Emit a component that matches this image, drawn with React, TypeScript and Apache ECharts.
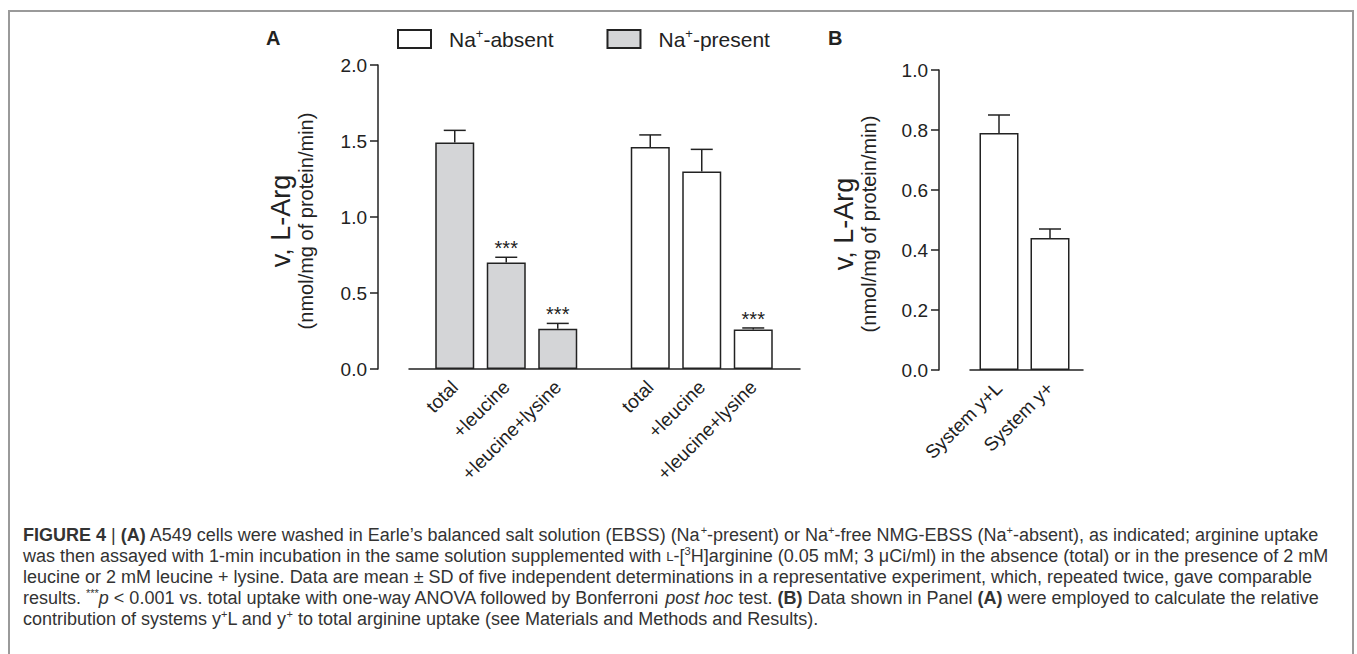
import React, { useEffect, useRef } from "react";
import * as echarts from "echarts";

const categoriesA = ["total", "+leucine", "+leucine+lysine"];
const presentMeans = [1.49, 0.7, 0.265];
const presentSD = [0.08, 0.035, 0.035];
const presentSig = ["", "***", "***"];
const absentMeans = [1.46, 1.3, 0.26];
const absentSD = [0.08, 0.145, 0.01];
const absentSig = ["", "", "***"];

const categoriesB = ["System y+L", "System y+"];
const systemMeans = [0.79, 0.44];
const systemSD = [0.06, 0.03];
const systemSig = ["", ""];

const legendNames = ["Na+-absent", "Na+-present"];

const FONT = "Liberation Sans, Arial, Helvetica, sans-serif";
const INK = "#222";

const captionLines = [
  "{b|FIGURE 4} | {b|(A)} A549 cells were washed in Earle’s balanced salt solution (EBSS) (Na{sup|+}-present) or Na{sup|+}-free NMG-EBSS (Na{sup|+}-absent), as indicated; arginine uptake",
  "was then assayed with 1-min incubation in the same solution supplemented with {sc|L}-[{sup|3}H]arginine (0.05 mM; 3 μCi/ml) in the absence (total) or in the presence of 2 mM",
  "leucine or 2 mM leucine + lysine. Data are mean ± SD of five independent determinations in a representative experiment, which, repeated twice, gave comparable",
  "results. {sup|***}{i|p} < 0.001 vs. total uptake with one-way ANOVA followed by Bonferroni {i|post hoc} test. {b|(B)} Data shown in Panel {b|(A)} were employed to calculate the relative",
  "contribution of systems y{sup|+}L and y{sup|+} to total arginine uptake (see Materials and Methods and Results).",
];

function errSeries(xi: number, yi: number, means: number[], sds: number[], sigs: string[]) {
  return {
    type: "custom",
    xAxisIndex: xi,
    yAxisIndex: yi,
    z: 5,
    data: means.map((m, i) => [i, m, sds[i]]),
    encode: { x: 0, y: 1 },
    renderItem: (params: any, api: any) => {
      const i = api.value(0);
      const m = api.value(1);
      const s = api.value(2);
      const base = api.coord([i, m]);
      const top = api.coord([i, m + s]);
      const ls = { stroke: INK, lineWidth: 1.5 };
      const children: any[] = [
        { type: "line", shape: { x1: base[0], y1: base[1], x2: top[0], y2: top[1] }, style: ls },
        { type: "line", shape: { x1: top[0] - 11, y1: top[1], x2: top[0] + 11, y2: top[1] }, style: ls },
      ];
      const sig = sigs[params.dataIndex];
      if (sig) {
        children.push({
          type: "text",
          x: top[0],
          y: top[1] - 9,
          style: { text: sig, align: "center", verticalAlign: "middle", fontSize: 20, fill: INK, fontFamily: FONT },
        });
      }
      return { type: "group", children };
    },
  };
}

const axisLineStyle = { color: INK, width: 1.5 };

function catAxis(grid: number, data: string[]) {
  return {
    type: "category",
    gridIndex: grid,
    data,
    axisLine: { show: false },
    axisTick: { show: false },
    axisLabel: { interval: 0, rotate: 45, fontSize: 19, color: INK, margin: 15, fontFamily: FONT },
    splitLine: { show: false },
  };
}

function lineAxis(grid: number) {
  return {
    type: "value",
    gridIndex: grid,
    min: 0,
    max: 1,
    axisLine: { show: true, lineStyle: axisLineStyle },
    axisTick: { show: false },
    axisLabel: { show: false },
    splitLine: { show: false },
  };
}

const yName = "{a|v, L-Arg}\n{b|(nmol/mg of protein/min)}";
const yNameStyle = {
  fontFamily: FONT,
  color: INK,
  padding: [0, 8, 0, 0],
  rich: {
    a: { fontSize: 27, lineHeight: 28, fontFamily: FONT, color: INK },
    b: { fontSize: 20, lineHeight: 22, fontFamily: FONT, color: INK },
  },
};

function valAxis(grid: number, max: number, interval: number, offset: number, gap: number) {
  return {
    type: "value",
    gridIndex: grid,
    min: 0,
    max,
    interval,
    offset,
    name: yName,
    nameLocation: "middle",
    nameRotate: 90,
    nameGap: gap,
    nameTextStyle: yNameStyle,
    axisLine: { show: true, lineStyle: axisLineStyle },
    axisTick: { show: true, length: 8, lineStyle: axisLineStyle },
    axisLabel: { fontSize: 19, color: INK, margin: 11, fontFamily: FONT, formatter: (v: number) => v.toFixed(1) },
    splitLine: { show: false },
  };
}

function hiddenY(grid: number, max: number) {
  return { type: "value", gridIndex: grid, min: 0, max, show: false, splitLine: { show: false } };
}

export default function App() {
  const ref = useRef<HTMLDivElement>(null);
  useEffect(() => {
    if (!ref.current) return;
    const chart = echarts.init(ref.current, null, { renderer: "svg" });
    const barBorder = { borderColor: INK, borderWidth: 1.5 };
    const option: any = {
      animation: false,
      backgroundColor: "#fff",
      textStyle: { fontFamily: FONT },
      legend: {
        data: legendNames,
        left: 397,
        top: 27,
        padding: 0,
        itemWidth: 33,
        itemHeight: 18,
        itemGap: 53,
        icon: "rect",
        formatter: (name: string) => `{n|Na}{s|+}{n|${name.slice(3)}}`,
        textStyle: {
          fontFamily: FONT,
          color: INK,
          padding: [0, 0, 0, 13],
          rich: {
            n: { fontSize: 21, fontFamily: FONT, color: INK, lineHeight: 24 },
            s: { fontSize: 13, fontFamily: FONT, color: INK, lineHeight: 24, verticalAlign: "top", padding: [0, 0, 7, 0] },
          },
        },
      },
      grid: [
        { left: 429, top: 65, width: 154.5, height: 304 },
        { left: 624.5, top: 65, width: 154.5, height: 304 },
        { left: 409, top: 65, width: 391, height: 304 },
        { left: 973.5, top: 70, width: 102, height: 300 },
        { left: 970, top: 70, width: 113, height: 300 },
      ],
      xAxis: [catAxis(0, categoriesA), catAxis(1, categoriesA), lineAxis(2), catAxis(3, categoriesB), lineAxis(4)],
      yAxis: [
        valAxis(0, 2, 0.5, 51, 61),
        hiddenY(1, 2),
        hiddenY(2, 1),
        valAxis(3, 1, 0.2, 34.5, 59),
        hiddenY(4, 1),
      ],
      series: [
        {
          name: "Na+-present",
          type: "bar",
          xAxisIndex: 0,
          yAxisIndex: 0,
          barWidth: 39,
          data: presentMeans,
          itemStyle: { color: "#d4d5d7", ...barBorder },
        },
        {
          name: "Na+-absent",
          type: "bar",
          xAxisIndex: 1,
          yAxisIndex: 1,
          barWidth: 39,
          data: absentMeans,
          itemStyle: { color: "#ffffff", ...barBorder },
        },
        {
          name: "systems",
          type: "bar",
          xAxisIndex: 3,
          yAxisIndex: 3,
          barWidth: 39,
          data: systemMeans,
          itemStyle: { color: "#ffffff", ...barBorder },
        },
        errSeries(0, 0, presentMeans, presentSD, presentSig),
        errSeries(1, 1, absentMeans, absentSD, absentSig),
        errSeries(3, 3, systemMeans, systemSD, systemSig),
      ],
      graphic: [
        {
          type: "polyline",
          shape: { points: [[9, 660], [9, 11], [1353, 11], [1353, 660]] },
          style: { stroke: "#9a9a9a", lineWidth: 2, fill: "none" },
          silent: true,
        },
        {
          type: "text",
          x: 266,
          y: 38,
          style: { text: "A", fontSize: 20, fontWeight: "bold", fill: INK, fontFamily: FONT, verticalAlign: "middle" },
        },
        {
          type: "text",
          x: 828,
          y: 38,
          style: { text: "B", fontSize: 20, fontWeight: "bold", fill: INK, fontFamily: FONT, verticalAlign: "middle" },
        },
        ...captionLines.map((t, k) => ({
          type: "text",
          x: 23,
          y: 535 + k * 21,
          style: {
            text: t,
            fontSize: 18,
            fontFamily: FONT,
            fill: "#333",
            verticalAlign: "middle",
            lineHeight: 21,
            rich: {
              b: { fontSize: 18, fontWeight: "bold", fontFamily: FONT, fill: "#333", lineHeight: 21 },
              i: { fontSize: 18, fontStyle: "italic", fontFamily: FONT, fill: "#333", lineHeight: 21 },
              sup: { fontSize: 11, fontFamily: FONT, fill: "#333", lineHeight: 21, verticalAlign: "top", padding: [0, 0, 6, 0] },
              sc: { fontSize: 13, fontFamily: FONT, fill: "#333", lineHeight: 21 },
            },
          },
        })),
      ],
    };
    chart.setOption(option);
    return () => chart.dispose();
  }, []);
  return (
    <div
      ref={ref}
      style={{ position: "fixed", left: 0, top: 0, width: 1357, height: 654, background: "#fff" }}
    />
  );
}
